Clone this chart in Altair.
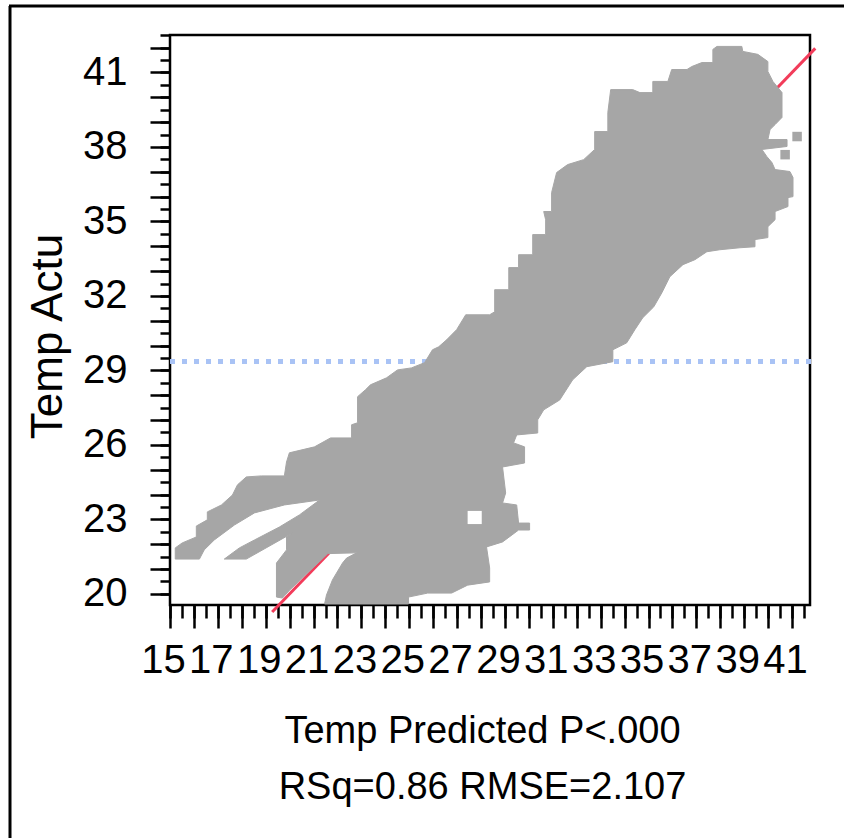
import altair as alt
import pandas as pd

# Outline of the dense point cloud (Temp Predicted, Temp Actu), traced clockwise
cloud_pred = [
    15.22, 15.51, 16.10, 16.10, 16.56, 16.56, 17.15, 17.61, 17.82, 18.19,
    18.82, 19.78, 19.87, 19.99, 21.04, 21.71, 22.59, 22.59, 22.84, 22.84,
    23.17, 23.38, 24.05, 24.51, 25.09, 25.64, 25.97, 26.23, 26.56, 26.98,
    27.36, 28.36, 28.57, 28.57, 29.16, 29.16, 29.57, 29.57, 30.16, 30.16,
    30.70, 30.70, 30.62, 30.95, 30.95, 31.16, 31.62, 32.29, 32.75, 32.75,
    33.30, 33.30, 33.42, 34.34, 34.64, 35.18, 35.18, 35.81, 35.97, 36.61,
    36.81, 37.23, 37.69, 37.69, 37.86, 38.90, 38.94, 39.57, 39.99, 39.99,
    40.20, 40.58, 40.58, 40.29, 40.08, 39.99, 40.79, 40.79, 39.74, 39.95,
    40.16, 40.29, 40.91, 41.04, 41.04, 40.83, 40.83, 40.29, 40.29, 39.99,
    39.99, 39.45, 39.45, 38.82, 37.98, 37.44, 36.94, 36.44, 35.89, 35.56,
    35.22, 34.76, 34.43, 34.09, 33.51, 33.51, 32.42, 31.83, 31.29, 30.62,
    30.37, 30.37, 29.49, 29.36, 29.82, 29.82, 28.90, 29.03, 28.90, 29.49,
    29.57, 30.03, 30.03, 29.57, 28.90, 28.23, 28.36, 28.36, 27.44, 26.77,
    25.77, 24.97, 24.97, 21.46, 21.54, 21.79, 22.21, 22.38, 22.80, 21.60,
    20.00, 19.70, 19.45, 19.45, 19.87, 19.87, 20.12, 18.19, 17.27, 17.90,
    18.53, 19.57, 20.41, 21.25, 19.78, 18.53, 17.69, 16.85, 16.43, 16.23,
    15.22,
]
cloud_actual = [
    21.85, 22.05, 22.29, 22.73, 22.98, 23.30, 23.58, 23.98, 24.39, 24.71,
    24.75, 24.75, 25.31, 25.68, 25.92, 26.28, 26.28, 26.81, 26.89, 27.94,
    28.22, 28.42, 28.70, 29.02, 29.10, 29.31, 29.83, 29.95, 30.23, 30.64,
    31.24, 31.24, 31.36, 32.25, 32.25, 33.14, 33.14, 33.66, 33.66, 34.47,
    34.47, 35.07, 35.40, 35.40, 36.16, 36.97, 37.29, 37.49, 37.90, 38.62,
    38.62, 39.39, 40.31, 40.31, 40.19, 40.19, 40.64, 40.64, 41.12, 41.12,
    41.24, 41.40, 41.40, 41.93, 42.05, 42.05, 41.85, 41.73, 41.44, 41.04,
    40.64, 40.19, 39.19, 38.90, 38.70, 38.30, 38.30, 38.02, 37.90, 37.61,
    37.37, 37.09, 37.01, 36.77, 36.00, 35.96, 35.60, 35.40, 35.07, 34.79,
    34.35, 34.27, 33.98, 33.94, 33.86, 33.78, 33.46, 33.26, 32.77, 32.13,
    31.56, 31.12, 30.64, 30.11, 29.83, 29.35, 29.15, 28.62, 27.81, 27.41,
    27.01, 26.48, 26.40, 26.08, 25.92, 25.27, 25.11, 24.06, 23.66, 23.58,
    22.85, 22.85, 22.57, 22.57, 22.09, 21.89, 21.04, 20.48, 20.35, 20.03,
    20.03, 19.87, 19.59, 19.59, 19.95, 20.56, 21.24, 21.44, 21.65, 21.62,
    20.15, 19.83, 19.87, 21.24, 21.77, 22.29, 22.45, 21.40, 21.40, 21.85,
    22.17, 22.69, 23.18, 23.78, 23.58, 23.26, 22.77, 22.17, 21.77, 21.40,
    21.40,
]

# Empty pockets inside the cloud
hole_pred_lo = [27.44]
hole_pred_hi = [28.03]
hole_act_lo = [22.81]
hole_act_hi = [23.34]

# Isolated points outside the main cloud
stray_pred = [41.21, 40.71]
stray_actual = [38.42, 37.69]

# Fit line (Actual = Predicted) and mean of Temp Actu
fit_ends = [19.27, 41.97]
actual_mean = 29.36
mean_span = [15.0, 42.0]

# Axis ticks
x_minor = [15 + 0.5 * i for i in range(54)]
x_major = list(range(15, 42))
y_minor = [20 + 0.5 * i for i in range(46)]
y_major = list(range(20, 43))

FONT = "Liberation Sans, Arial, sans-serif"
GRAY = "#a6a6a6"

xscale = alt.Scale(domain=[15, 41.75], nice=False, zero=False)
yscale = alt.Scale(domain=[19.55, 42.51], nice=False, zero=False)

cloud_df = pd.DataFrame({
    "pred": cloud_pred,
    "actual": cloud_actual,
    "i": list(range(len(cloud_pred))),
})
hole_df = pd.DataFrame({"x0": hole_pred_lo, "x1": hole_pred_hi,
                        "y0": hole_act_lo, "y1": hole_act_hi})
stray_df = pd.DataFrame({"pred": stray_pred, "actual": stray_actual})
fit_df = pd.DataFrame({"pred": fit_ends, "actual": fit_ends})
mean_df = pd.DataFrame({"x0": [mean_span[0]], "x1": [mean_span[1]],
                        "mean": [actual_mean]})

x_minor_axis = alt.Axis(values=x_minor, orient="bottom", tickSize=13, tickWidth=2.5,
                        tickColor="black", labels=False, domain=False, grid=False,
                        title=None)
y_minor_axis = alt.Axis(values=y_minor, orient="left", tickSize=10, tickWidth=2.5,
                        tickColor="black", labels=False, domain=False, grid=False,
                        title=None)

x_major_axis = alt.Axis(
    values=x_major, orient="bottom", tickSize=23, tickWidth=2.5, tickColor="black",
    domain=False, grid=False,
    labelExpr="datum.value % 2 == 1 ? datum.label : ''",
    labelFont=FONT, labelFontSize=40, labelColor="black", labelPadding=12,
    labelOffset=-7, labelOverlap=False, labelFlush=False, labelBound=False,
    labelBaseline="top",
    title=["Temp Predicted P<.000", "RSq=0.86 RMSE=2.107"],
    titleFont=FONT, titleFontSize=38, titleFontWeight="normal", titleColor="black",
    titleLineHeight=56, titleX=312, titleY=107, titleAlign="center",
    titleBaseline="top", titleAngle=0,
)
y_major_axis = alt.Axis(
    values=y_major, orient="left", tickSize=20, tickWidth=2.5, tickColor="black",
    domain=False, grid=False,
    labelExpr="(datum.value - 20) % 3 == 0 ? datum.label : ''",
    labelFont=FONT, labelFontSize=40, labelColor="black", labelPadding=23,
    labelOverlap=False, labelFlush=False, labelBound=False,
    title="Temp Actu", titleFont=FONT, titleFontSize=44, titleFontWeight="normal",
    titleColor="black", titleX=-109, titleY=301, titleAngle=270,
    titleAlign="center", titleBaseline="alphabetic",
)

fit_line = alt.Chart(fit_df).mark_line(color="#f23c5a", strokeWidth=3, clip=False).encode(
    x=alt.X("pred:Q", scale=xscale, axis=x_minor_axis),
    y=alt.Y("actual:Q", scale=yscale, axis=y_minor_axis),
)

mean_line = alt.Chart(mean_df).mark_rule(
    color="#a9c3f5", strokeWidth=5, strokeDash=[5, 7], clip=False
).encode(
    x=alt.X("x0:Q", scale=xscale, axis=x_major_axis),
    x2="x1:Q",
    y=alt.Y("mean:Q", scale=yscale, axis=y_major_axis),
)

cloud = alt.Chart(cloud_df).mark_line(
    interpolate="linear-closed", fill=GRAY, stroke=GRAY, strokeWidth=1, clip=True
).encode(
    x=alt.X("pred:Q", scale=xscale, axis=None),
    y=alt.Y("actual:Q", scale=yscale, axis=None),
    order="i:Q",
)

holes = alt.Chart(hole_df).mark_rect(color="white").encode(
    x=alt.X("x0:Q", scale=xscale, axis=None),
    x2="x1:Q",
    y=alt.Y("y0:Q", scale=yscale, axis=None),
    y2="y1:Q",
)

strays = alt.Chart(stray_df).mark_square(size=90, color=GRAY, opacity=1).encode(
    x=alt.X("pred:Q", scale=xscale, axis=None),
    y=alt.Y("actual:Q", scale=yscale, axis=None),
)

# Outer frame of the report panel
frame_left = alt.Chart(mean_df).mark_rule(color="black", strokeWidth=3, clip=False).encode(
    x=alt.value(-160), y=alt.value(-29), y2=alt.value(820)
)
frame_top = alt.Chart(mean_df).mark_rule(color="black", strokeWidth=3, clip=False).encode(
    x=alt.value(-161), x2=alt.value(700), y=alt.value(-29)
)

chart = alt.layer(
    fit_line, mean_line, cloud, holes, strays, frame_left, frame_top
).resolve_scale(
    x="shared", y="shared"
).resolve_axis(
    x="independent", y="independent"
).properties(
    width=640, height=570,
    padding={"left": 170, "top": 35, "right": 34, "bottom": 233},
    autosize=alt.AutoSizeParams(type="none"),
    background="white",
).configure_view(
    stroke="black", strokeWidth=2.5
)

chart.save("out.html", embed_options={"renderer": "svg", "actions": False})
